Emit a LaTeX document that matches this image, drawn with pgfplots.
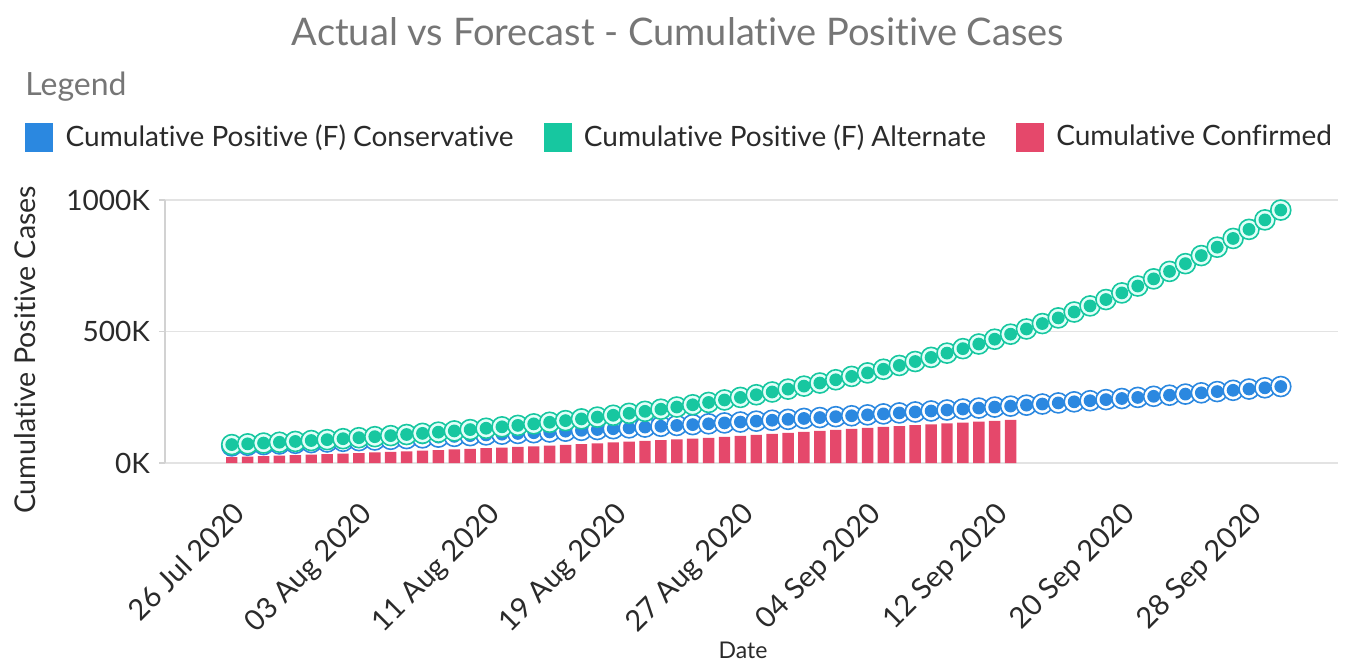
\documentclass[border=0pt]{standalone}
\usepackage{pgfplots}
\usepackage{pgfplotstable}
\pgfplotsset{compat=1.18}
\usepackage{fontspec}
\setmainfont{Lato}[Ligatures=NoCommon]
\definecolor{cblue}{HTML}{2B88E0}
\definecolor{cgreen}{HTML}{17C7A0}
\definecolor{cred}{HTML}{E5486B}
\definecolor{ringg}{HTML}{E2FFF9}
\definecolor{ttl}{HTML}{767676}
\definecolor{txt}{HTML}{2A2A2A}
\pgfdeclareplotmark{gring}{%
  \pgfsetlinewidth{0.8pt}%
  \pgfsetstrokecolor{cgreen}\pgfsetfillcolor{ringg}%
  \pgfpathcircle{\pgfpointorigin}{5pt}\pgfusepath{fill,stroke}%
  \pgfsetfillcolor{cgreen}%
  \pgfpathcircle{\pgfpointorigin}{3.2pt}\pgfusepath{fill}%
}
\pgfdeclareplotmark{bring}{%
  \pgfsetlinewidth{0.8pt}%
  \pgfsetstrokecolor{cblue}\pgfsetfillcolor{white}%
  \pgfpathcircle{\pgfpointorigin}{5pt}\pgfusepath{fill,stroke}%
  \pgfsetfillcolor{cblue}%
  \pgfpathcircle{\pgfpointorigin}{3.2pt}\pgfusepath{fill}%
}
\pgfplotstableread{
d cons alt
0 65.0 70.0
1 67.5 72.8
2 70.0 75.8
3 72.5 78.9
4 75.0 82.0
5 77.5 85.4
6 80.0 88.8
7 82.5 92.4
8 85.0 96.2
9 87.5 100.1
10 90.0 104.1
11 92.8 108.3
12 95.6 112.7
13 98.4 117.3
14 101.2 122.0
15 104.0 127.0
16 106.8 132.1
17 109.6 137.5
18 112.4 143.0
19 115.2 148.8
20 118.0 154.9
21 121.1 161.1
22 124.2 167.7
23 127.3 174.5
24 130.4 181.5
25 133.5 188.9
26 136.6 196.5
27 139.7 204.5
28 142.8 212.8
29 145.9 221.4
30 149.0 230.3
31 152.4 239.7
32 155.8 249.4
33 159.2 259.5
34 162.6 270.0
35 166.0 280.9
36 169.4 292.3
37 172.8 304.1
38 176.2 316.5
39 179.6 329.3
40 183.0 342.6
41 186.7 356.5
42 190.4 370.9
43 194.1 385.9
44 197.8 401.6
45 201.5 417.8
46 205.2 434.8
47 208.9 452.4
48 212.6 470.7
49 216.3 489.8
50 220.0 509.6
51 224.2 530.2
52 228.4 551.7
53 232.6 574.1
54 236.8 597.3
55 241.0 621.5
56 245.2 646.7
57 249.4 672.9
58 253.6 700.1
59 257.8 728.5
60 262.0 758.0
61 266.8 788.7
62 271.6 820.6
63 276.4 853.8
64 281.2 888.4
65 286.0 924.4
66 290.8 961.8
}\fc
\pgfplotstableread{
d conf
0 22
1 24
2 26
3 28
4 30
5 32
6 34
7 36
8 38
9 40
10 42
11 44.4
12 46.8
13 49.2
14 51.6
15 54
16 56.4
17 58.8
18 61.2
19 63.6
20 66
21 69
22 72
23 75
24 78
25 81
26 84
27 87
28 90
29 93
30 96
31 99.8
32 103.6
33 107.4
34 111.2
35 115
36 118.8
37 122.6
38 126.4
39 130.2
40 134
41 137.3
42 140.6
43 143.9
44 147.2
45 150.5
46 153.8
47 157.1
48 160.4
49 163.7
}\conf
\begin{document}
\begin{tikzpicture}
\path[use as bounding box] (0,0) rectangle (676pt,332pt);
\begin{axis}[
  at={(82.5pt,100.5pt)}, anchor=south west,
  scale only axis, width=586.5pt, height=131.5pt,
  xmin=-4.2, xmax=69.6, ymin=0, ymax=1000,
  clip=false,
  axis line style={draw=none},
  ymajorgrids, grid style={draw=gray!22, line width=0.7pt},
  ytick={0,500,1000}, yticklabels={0K,500K,1000K},
  xtick={0,8,...,64},
  xticklabels={26 Jul 2020,03 Aug 2020,11 Aug 2020,19 Aug 2020,27 Aug 2020,04 Sep 2020,12 Sep 2020,20 Sep 2020,28 Sep 2020},
  /pgf/number format/assume math mode=true,
  xtick style={draw=none},
  ytick pos=left, tick align=outside, major tick length=3pt,
  ytick style={draw=gray!35, line width=0.6pt},
  yticklabel style={font=\fontsize{14}{16}\selectfont, text=txt, xshift=-1pt},
  xticklabel style={font=\fontsize{14.5}{17}\selectfont, text=txt, rotate=45, anchor=north east, inner sep=0pt, xshift=-11pt, yshift=-11pt},
  title={Actual vs Forecast - Cumulative Positive Cases},
  title style={at={(axis description cs:0.4373,1.593)}, anchor=center, font=\fontsize{19}{22}\selectfont, text=ttl},
  xlabel={Date},
  xlabel style={at={(axis description cs:0.4928,-0.711)}, anchor=center, font=\fontsize{11.5}{14}\selectfont, text=txt},
  ylabel={Cumulative Positive Cases},
  ylabel style={at={(axis description cs:-0.119,0.43)}, anchor=center, font=\fontsize{14.3}{17}\selectfont, text=txt},
  legend columns=3,
  legend style={at={(axis description cs:-0.1194,1.2395)}, anchor=west, draw=none, fill=none,
    font=\fontsize{14}{16}\selectfont, text=txt, inner sep=0pt,
    /tikz/every even column/.append style={column sep=13pt}},
  legend cell align=left,
]
\addlegendimage{legend image code/.code={\fill[cblue] (0pt,-7pt) rectangle (13.5pt,7pt); \path[draw=none,fill=none] (0pt,0pt) rectangle (18pt,0pt);}}
\addlegendentry{Cumulative Positive (F) Conservative}
\addlegendimage{legend image code/.code={\fill[cgreen] (0pt,-7pt) rectangle (13.5pt,7pt); \path[draw=none,fill=none] (0pt,0pt) rectangle (18pt,0pt);}}
\addlegendentry{Cumulative Positive (F) Alternate}
\addlegendimage{legend image code/.code={\fill[cred] (0pt,-7pt) rectangle (13.5pt,7pt); \path[draw=none,fill=none] (0pt,0pt) rectangle (18pt,0pt);}}
\addlegendentry{Cumulative Confirmed}
\draw[gray!35, line width=0.7pt] (rel axis cs:0,0) -- (rel axis cs:0,1);
\addplot[ybar, bar width=0.72, bar shift=0pt, fill=cred, draw=none, forget plot] table[x=d,y=conf] {\conf};
\addplot[only marks, mark=bring, forget plot] table[x=d,y=cons] {\fc};
\addplot[only marks, mark=gring, forget plot] table[x=d,y=alt] {\fc};
\node[anchor=west, text=ttl, font=\fontsize{16}{19}\selectfont, inner sep=0pt] at (axis description cs:-0.1194,1.4297) {Legend};
\end{axis}
\end{tikzpicture}
\end{document}
